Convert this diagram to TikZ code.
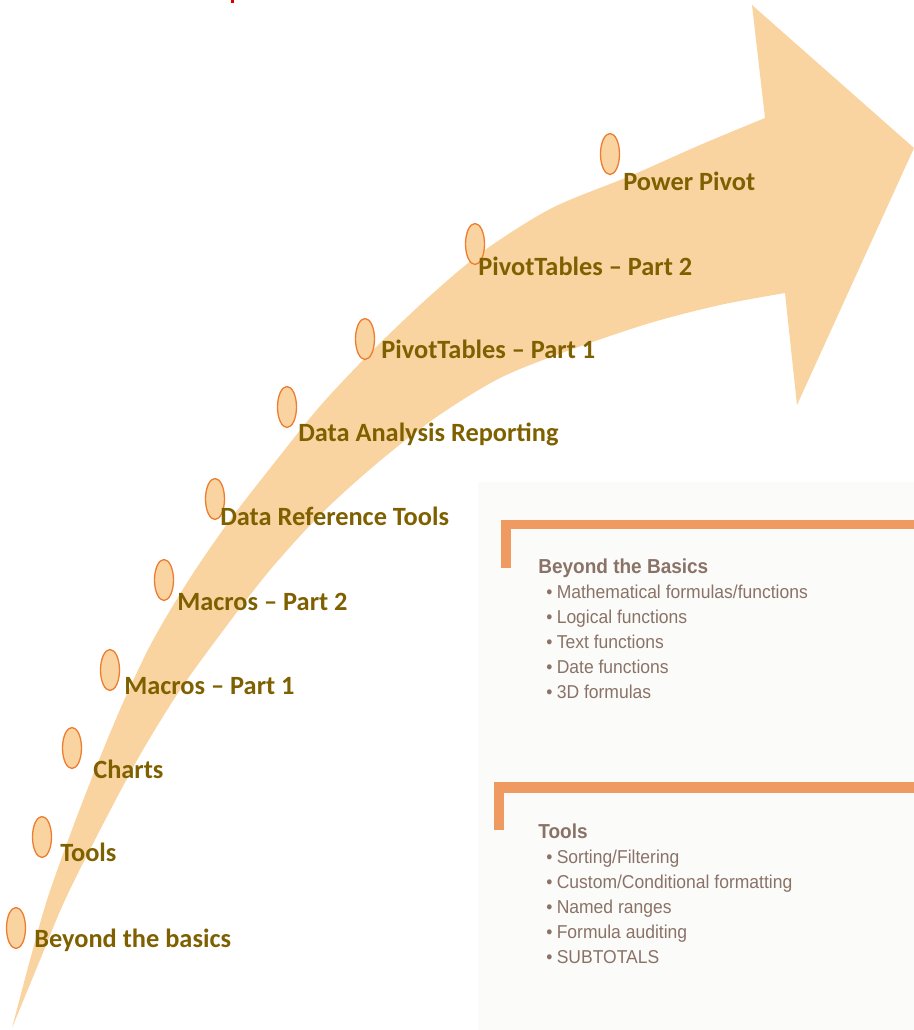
\documentclass[tikz,border=0pt]{standalone}
\usepackage{fontspec}
\setmainfont{Carlito}
\newfontfamily\scanfont[FakeStretch=0.94]{Liberation Sans}
\usetikzlibrary{shapes.geometric}
\definecolor{peach}{RGB}{249,212,160}
\definecolor{dotline}{RGB}{237,125,49}
\definecolor{stagetext}{RGB}{127,96,0}
\definecolor{scanbar}{RGB}{238,154,96}
\definecolor{scantext}{RGB}{138,114,102}
\definecolor{scanbg}{RGB}{251,251,250}

\begin{document}
\begin{tikzpicture}[x=0.2mm,y=-0.2mm,
    dot/.style={ellipse,draw=dotline,fill=peach,line width=0.75pt,
      minimum width=3.8mm,minimum height=8.2mm,inner sep=0pt},
    stage/.style={anchor=base west,inner sep=0pt,text=stagetext,
      font=\fontsize{15}{18}\selectfont\bfseries},
    card/.style={anchor=north west,inner sep=0pt,align=left,text=scantext,
      font=\scanfont\fontsize{10.6}{14.3}\selectfont}]
      \useasboundingbox (0,0) rectangle (914,1030);

      % scanned page behind the two cards
      \fill[scanbg] (478,482) rectangle (914,1030);
      \fill[red!85!black] (231,0) rectangle (234,3);

      % the curved arrow
      \fill[peach] plot[smooth,tension=0.5] coordinates {(12,1028) (30,960) (47,900)
          (70,835) (95,770) (122,705) (152,642) (190,578) (230,520) (275,462)
          (321,405) (373,350) (431,295) (485,250) (552,208) (630,176) (700,145)
          (765,118)}
        -- (752,5) -- (914,148) -- (797,405)
        -- plot[smooth,tension=0.5] coordinates {(785,293) (720,305) (650,323)
          (570,350) (500,378) (435,418) (375,465) (320,515) (270,570) (225,628)
          (180,690) (140,755) (100,830) (65,900) (40,960) (12,1028)}
        -- cycle;

      \node[dot] (basics-o) at (16,928) {};
      \node[dot] (tools-o) at (42,837) {};
      \node[dot] (charts-o) at (72,748) {};
      \node[dot] (macrosA-o) at (110,670) {};
      \node[dot] (macrosB-o) at (164,580) {};
      \node[dot] (dataref-o) at (215,499) {};
      \node[dot] (analysis-o) at (287,407) {};
      \node[dot] (pivotA-o) at (365,339) {};
      \node[dot] (pivotB-o) at (475,244) {};
      \node[dot] (power-o) at (610,154) {};

      \node[stage] (basics) at (34,947) {Beyond the basics};
      \node[stage] (tools) at (60,861) {Tools};
      \node[stage] (charts) at (93,778) {Charts};
      \node[stage] (macrosA) at (124,694) {Macros – Part 1};
      \node[stage] (macrosB) at (177,610) {Macros – Part 2};
      \node[stage] (dataref) at (220,525) {Data Reference Tools};
      \node[stage] (analysis) at (298,441) {Data Analysis Reporting};
      \node[stage] (pivotA) at (381,358) {PivotTables – Part 1};
      \node[stage] (pivotB) at (478,275) {PivotTables – Part 2};
      \node[stage] (power) at (623,190) {Power Pivot};

      % cards
      \fill[scanbar] (501,520) rectangle (914,529);
      \fill[scanbar] (501,520) rectangle (511,568);
      \node[card] (basics-card) at (538,558) {{\fontsize{11.5}{14.3}\selectfont\bfseries Beyond the Basics}\\
        \hspace*{4.5pt}\textbullet\hspace{2.5pt}Mathematical formulas/functions\\
        \hspace*{4.5pt}\textbullet\hspace{2.5pt}Logical functions\\
        \hspace*{4.5pt}\textbullet\hspace{2.5pt}Text functions\\
        \hspace*{4.5pt}\textbullet\hspace{2.5pt}Date functions\\
        \hspace*{4.5pt}\textbullet\hspace{2.5pt}3D formulas};

      \fill[scanbar] (494,782) rectangle (914,793);
      \fill[scanbar] (494,782) rectangle (504,830);
      \node[card] (tools-card) at (538,823) {{\fontsize{11.5}{14.3}\selectfont\bfseries Tools}\\
        \hspace*{4.5pt}\textbullet\hspace{2.5pt}Sorting/Filtering\\
        \hspace*{4.5pt}\textbullet\hspace{2.5pt}Custom/Conditional formatting\\
        \hspace*{4.5pt}\textbullet\hspace{2.5pt}Named ranges\\
        \hspace*{4.5pt}\textbullet\hspace{2.5pt}Formula auditing\\
        \hspace*{4.5pt}\textbullet\hspace{2.5pt}SUBTOTALS};
    \end{tikzpicture}
\end{document}
